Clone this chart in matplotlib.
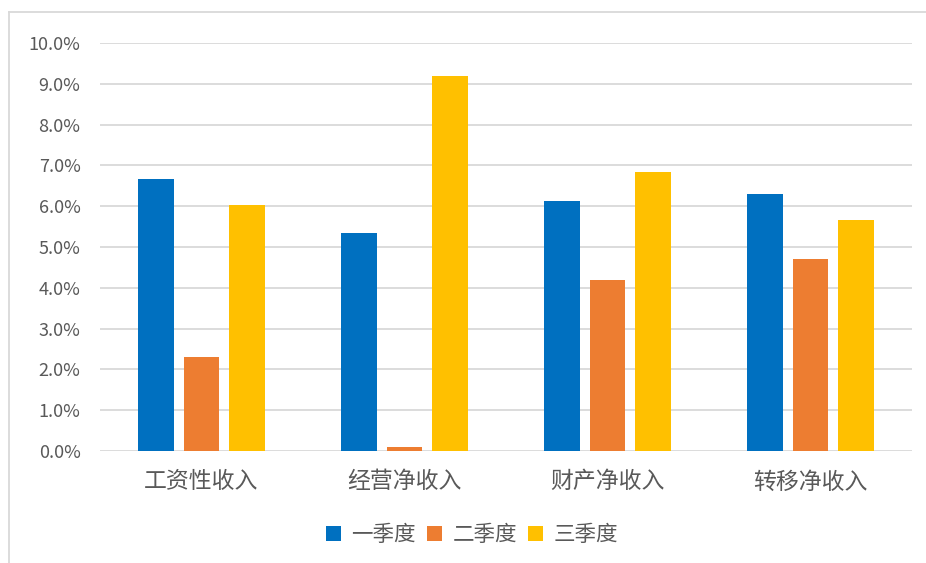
import matplotlib
matplotlib.use("Agg")
import matplotlib.pyplot as plt
from matplotlib.lines import Line2D
from matplotlib.ticker import PercentFormatter
import numpy as np

plt.rcParams["font.family"] = ["Noto Sans CJK SC", "DejaVu Sans"]

categories = ["工资性收入", "经营净收入", "财产净收入", "转移净收入"]
series_names = ["一季度", "二季度", "三季度"]
q1 = [6.67, 5.34, 6.13, 6.30]
q2 = [2.30, 0.10, 4.19, 4.71]
q3 = [6.03, 9.19, 6.84, 5.66]
colors = ["#0070C0", "#ED7D31", "#FFC000"]

TEXT = "#595959"
GRID = "#D9D9D9"

fig = plt.figure(figsize=(9.26, 5.63), dpi=100)
ax = fig.add_axes([100 / 926, 1 - 451 / 563, 812 / 926, 408 / 563])

x = np.arange(len(categories))
width = 0.177
step = 0.222
for i, (vals, name, c) in enumerate(zip([q1, q2, q3], series_names, colors)):
    ax.bar(x + (i - 1) * step, vals, width, color=c, label=name, zorder=3)

ax.set_xlim(-0.5, len(categories) - 0.5)
ax.set_ylim(0, 10)
ax.set_yticks(np.arange(0, 11, 1))
ax.yaxis.set_major_formatter(PercentFormatter(100, decimals=1))
ax.set_xticks(x)
ax.set_xticklabels(categories, fontsize=16.5, color=TEXT)
ax.tick_params(axis="y", labelsize=13, colors=TEXT, length=0, pad=14)
ax.tick_params(axis="x", length=0, pad=14)
ax.grid(axis="y", color=GRID, linewidth=1.3, zorder=0)
for s in ax.spines.values():
    s.set_visible(False)

ax.legend(loc="center", bbox_to_anchor=(472 / 926, 1 - 535 / 563), bbox_transform=fig.transFigure,
          ncol=3, frameon=False, fontsize=15.5, handlelength=0.7, handleheight=0.7,
          handletextpad=0.5, columnspacing=0.5, labelcolor=TEXT)

# outer chart frame
fig.add_artist(Line2D([8.5 / 926, 8.5 / 926], [0, 1 - 12 / 563], transform=fig.transFigure, color=GRID, lw=1.3))
fig.add_artist(Line2D([8.5 / 926, 1], [1 - 12 / 563, 1 - 12 / 563], transform=fig.transFigure, color=GRID, lw=1.3))

fig.savefig("out.png", facecolor="white")
